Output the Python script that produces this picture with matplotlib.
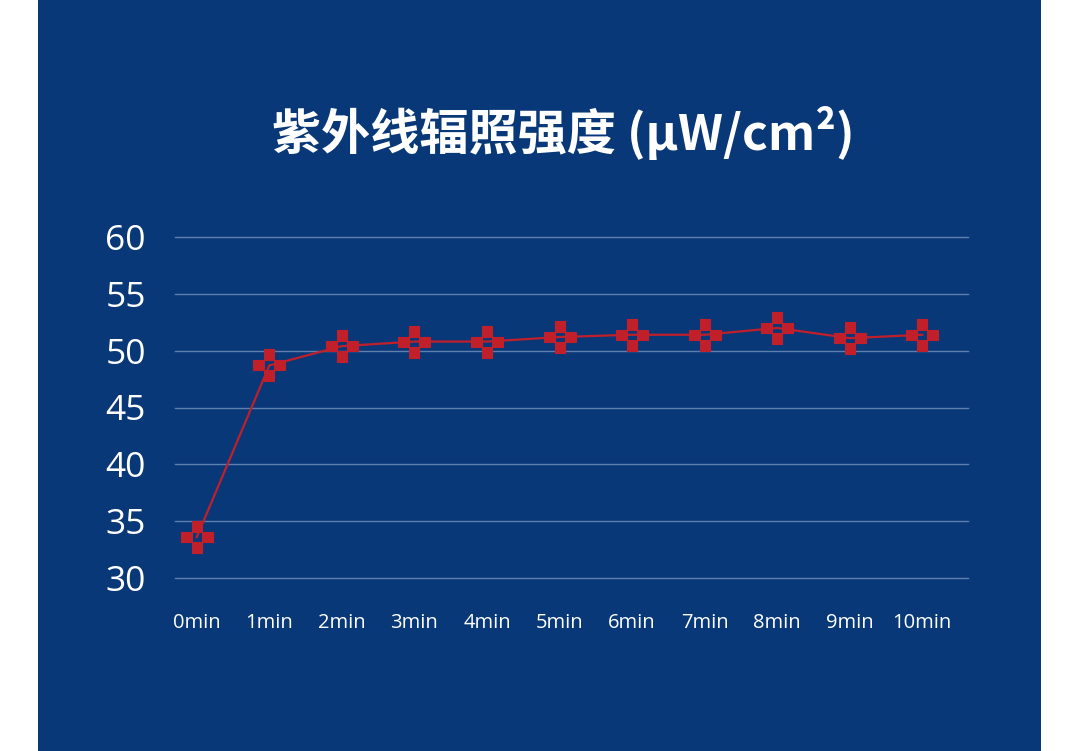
import matplotlib
matplotlib.use("Agg")
import matplotlib.pyplot as plt
from matplotlib.path import Path
from matplotlib.patches import Rectangle
import numpy as np

categories = ["0min", "1min", "2min", "3min", "4min", "5min", "6min", "7min", "8min", "9min", "10min"]
values = [33.6, 48.7, 50.4, 50.8, 50.8, 51.2, 51.4, 51.4, 52.0, 51.1, 51.4]
y_ticks = [30, 35, 40, 45, 50, 55, 60]
title = "紫外线辐照强度 (μW/cm²)"

BG = "#083878"
RED = "#c11f2a"
GRID = "#5f7fae"

# custom marker: four squares around an empty centre
def square(cx, cy, h):
    return [(cx - h, cy - h), (cx + h, cy - h), (cx + h, cy + h), (cx - h, cy + h), (cx - h, cy - h)]

verts, codes = [], []
for cx, cy in [(0, 10.5), (0, -10.5), (-10.5, 0), (10.5, 0)]:
    sq = square(cx, cy, 5.2)
    verts += sq
    codes += [Path.MOVETO, Path.LINETO, Path.LINETO, Path.LINETO, Path.CLOSEPOLY]
marker_path = Path(verts, codes)

W, H = 1081, 751
fig = plt.figure(figsize=(W / 100, H / 100), dpi=100)
fig.patch.set_facecolor("white")
bg = Rectangle((38 / W, 0), (1041 - 38) / W, 1, transform=fig.transFigure,
               facecolor=BG, edgecolor="none", zorder=-10)
fig.patches.append(bg)

ax = fig.add_axes([175 / W, 1 - 578 / H, (968 - 175) / W, (578 - 237) / H])
ax.set_zorder(5)
ax.set_facecolor("none")
x = np.arange(len(categories))
ax.plot(x, values, color=RED, lw=1.6, marker=marker_path, markersize=22.5,
        markerfacecolor=RED, markeredgecolor=RED, markeredgewidth=0.8, clip_on=False, zorder=3)

ax.set_xlim(-0.3, 10.63)
ax.set_ylim(30, 60)
ax.set_yticks(y_ticks)
ax.set_xticks(x)
ax.set_xticklabels(categories)
for s in ax.spines.values():
    s.set_visible(False)
ax.grid(axis="y", color=GRID, lw=1.0)
for gl in ax.get_ygridlines():
    gl.set_clip_on(False)
ax.set_axisbelow(True)
ax.tick_params(axis="both", length=0)
ax.tick_params(axis="y", pad=21, labelsize=25.5, labelcolor="white")
ax.tick_params(axis="x", pad=25.5, labelsize=14.5, labelcolor="white")
for lab in ax.get_xticklabels() + ax.get_yticklabels():
    lab.set_family(["Open Sans", "DejaVu Sans"])

fig.text(563 / W, 1 - 133 / H, title, ha="center", va="center", color="white",
         fontsize=35.4, fontweight="bold", family=["Noto Sans CJK SC", "DejaVu Sans"])

fig.savefig("out.png", dpi=100, facecolor=fig.get_facecolor())
